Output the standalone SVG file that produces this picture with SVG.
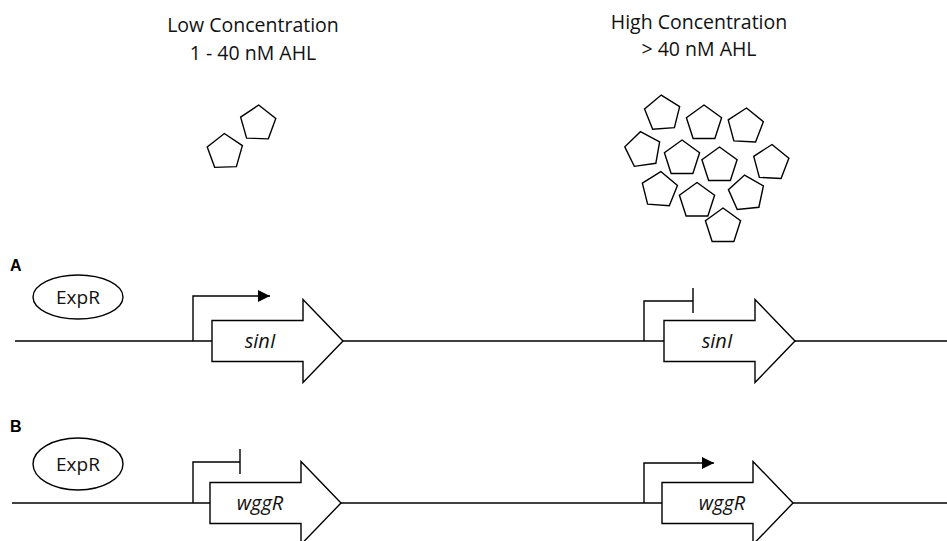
<svg xmlns="http://www.w3.org/2000/svg" width="947" height="541" viewBox="0 0 947 541">
<style>
.ln{stroke:#000;stroke-width:1.4;fill:none}
.sh{stroke:#000;stroke-width:1.4;fill:#fff}
.t{font-family:"Open Sans","Liberation Sans",sans-serif;fill:#111}
.title{font-size:19.5px;text-anchor:middle}
.gene{font-size:20px;font-style:italic;text-anchor:middle}
.lbl{font-family:"Liberation Sans",Arial,sans-serif;font-weight:bold;font-size:16px;fill:#000}
</style>
<defs>
<path id="pent" d="M0,-18.5 L17.59,-5.72 L10.87,14.97 L-10.87,14.97 L-17.59,-5.72 Z" class="sh"/>
<marker id="ah" viewBox="0 0 12 12" refX="12" refY="6" markerWidth="12" markerHeight="12" markerUnits="userSpaceOnUse" orient="auto">
<path d="M0,0 L12,6 L0,12 Z" fill="#000"/>
</marker>
<path id="gene" d="M0,-20.5 L91,-20.5 L91,-41.5 L131,0 L91,41.5 L91,20.5 L0,20.5 Z" class="sh"/>
</defs>

<g id="titles">
<text class="t title" x="253" y="32">Low Concentration</text>
<text class="t title" x="253" y="60">1 - 40 nM AHL</text>
<text class="t title" x="699" y="29">High Concentration</text>
<text class="t title" x="699" y="56">&gt; 40 nM AHL</text>
</g>

<g id="ahl-low">
<use href="#pent" transform="translate(258,123.5) rotate(2)"/>
<use href="#pent" transform="translate(225,152) rotate(-2)"/>
</g>

<g id="ahl-high">
<use href="#pent" transform="translate(662.5,113.5) rotate(-4)"/>
<use href="#pent" transform="translate(704,123.5)"/>
<use href="#pent" transform="translate(745.5,126.5) rotate(3)"/>
<use href="#pent" transform="translate(643,150) rotate(-8)"/>
<use href="#pent" transform="translate(682,158.5)"/>
<use href="#pent" transform="translate(719.5,165.5)"/>
<use href="#pent" transform="translate(771,163) rotate(3)"/>
<use href="#pent" transform="translate(659.5,190) rotate(4)"/>
<use href="#pent" transform="translate(697,201)"/>
<use href="#pent" transform="translate(746.5,193.5) rotate(-6)"/>
<use href="#pent" transform="translate(723,226.5)"/>
</g>

<text class="lbl" x="10" y="271">A</text>
<text class="lbl" x="10" y="432">B</text>

<g id="connectors">
<line class="ln" x1="15" y1="341" x2="947" y2="341"/>
<line class="ln" x1="12" y1="503" x2="947" y2="503"/>
<path class="ln" d="M193,341 V296 H270" marker-end="url(#ah)"/>
<path class="ln" d="M644,341 V301 H693 M693,288 V313"/>
<path class="ln" d="M193,503 V462 H240 M240,449 V474"/>
<path class="ln" d="M644,503 V463 H714" marker-end="url(#ah)"/>
</g>

<g id="expr-a">
<ellipse class="sh" cx="78" cy="297" rx="45" ry="22"/>
<text class="t" x="78" y="304" font-size="19" text-anchor="middle">ExpR</text>
</g>
<g id="expr-b">
<ellipse class="sh" cx="78" cy="464" rx="45" ry="26"/>
<text class="t" x="78" y="471" font-size="19" text-anchor="middle">ExpR</text>
</g>

<g id="sinI-low">
<use href="#gene" transform="translate(212,341)"/>
<text class="t gene" x="260" y="348">sinI</text>
</g>
<g id="sinI-high">
<use href="#gene" transform="translate(664,341)"/>
<text class="t gene" x="717" y="348">sinI</text>
</g>
<g id="wggR-low">
<use href="#gene" transform="translate(210,503)"/>
<text class="t gene" x="260" y="510">wggR</text>
</g>
<g id="wggR-high">
<use href="#gene" transform="translate(662,503)"/>
<text class="t gene" x="722" y="510">wggR</text>
</g>
</svg>
